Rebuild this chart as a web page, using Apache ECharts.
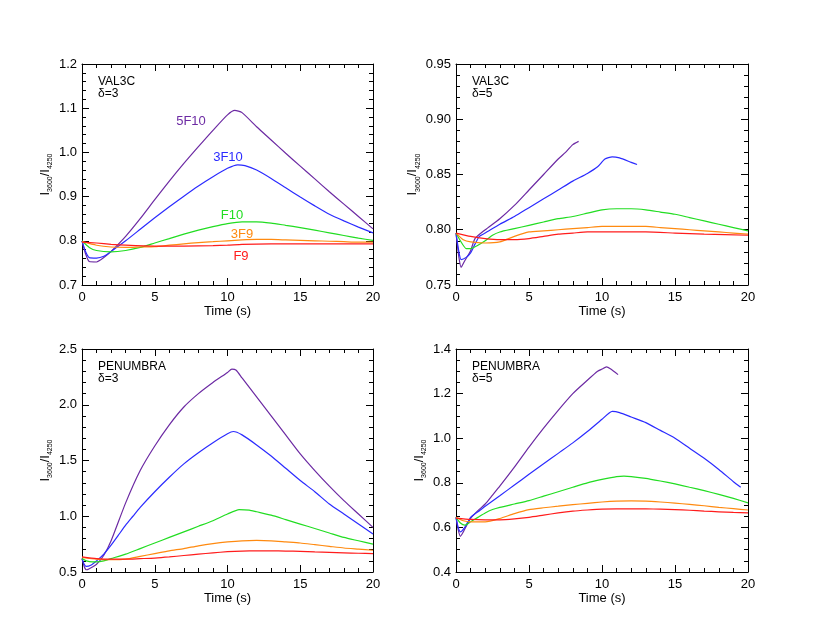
<!DOCTYPE html>
<html>
<head>
<meta charset="utf-8">
<title>Balmer ratio</title>
<script src="https://cdn.jsdelivr.net/npm/echarts@6/dist/echarts.min.js"></script>
<style>
  html, body { margin: 0; padding: 0; background: #fff; }
  #chart { width: 830px; height: 636px; }
</style>
</head>
<body>
<div id="chart"></div>
<script>
// x ticks (time, s)
var timeTicks = [0, 5, 10, 15, 20]

// VAL3C, delta=3  ([time, ratio])
var val3_5F10 = [[0, 0.80], [0.25, 0.77], [0.5, 0.753], [1, 0.752], [1.5, 0.762], [2, 0.776], [3, 0.81], [4, 0.85], [5, 0.893], [6, 0.935], [7, 0.975], [8, 1.013], [9, 1.05], [10, 1.085], [10.5, 1.095], [11, 1.09], [12, 1.058], [13, 1.028], [14, 0.998], [15, 0.969], [16, 0.94], [17, 0.911], [18, 0.883], [19, 0.855], [20, 0.827]]
var val3_3F10 = [[0, 0.80], [0.25, 0.775], [0.5, 0.762], [1, 0.761], [1.5, 0.765], [2, 0.776], [3, 0.80], [4, 0.826], [5, 0.852], [6, 0.877], [7, 0.901], [8, 0.924], [9, 0.945], [10, 0.964], [10.7, 0.972], [11.2, 0.97], [12, 0.96], [13, 0.941], [14, 0.92], [15, 0.899], [16, 0.879], [17, 0.86], [18, 0.845], [19, 0.831], [20, 0.818]]
var val3_F10 = [[0, 0.80], [0.5, 0.785], [1, 0.778], [2, 0.775], [3, 0.778], [4, 0.785], [5, 0.795], [6, 0.805], [7, 0.815], [8, 0.824], [9, 0.832], [10, 0.839], [11, 0.843], [12, 0.843], [13, 0.84], [14, 0.835], [15, 0.83], [16, 0.824], [17, 0.818], [18, 0.812], [19, 0.806], [20, 0.801]]
var val3_3F9 = [[0, 0.798], [1, 0.79], [2, 0.786], [3, 0.785], [4, 0.786], [5, 0.787], [6, 0.79], [7, 0.793], [8, 0.796], [9, 0.798], [10, 0.8], [11, 0.802], [12, 0.803], [13, 0.803], [14, 0.802], [15, 0.801], [16, 0.8], [17, 0.799], [18, 0.798], [19, 0.797], [20, 0.797]]
var val3_F9 = [[0, 0.797], [1, 0.795], [2, 0.792], [3, 0.79], [5, 0.788], [7, 0.788], [9, 0.789], [10, 0.79], [11, 0.792], [13, 0.793], [15, 0.793], [17, 0.793], [20, 0.793]]

// VAL3C, delta=5
var val5_5F10 = [[0, 0.797], [0.2, 0.775], [0.35, 0.766], [0.6, 0.772], [1, 0.781], [1.3, 0.792], [2, 0.80], [3, 0.81], [4, 0.822], [5, 0.836], [6, 0.85], [7, 0.864], [7.5, 0.87], [8, 0.877], [8.4, 0.88]]
var val5_3F10 = [[0, 0.797], [0.2, 0.78], [0.35, 0.773], [0.7, 0.775], [1, 0.779], [1.3, 0.787], [1.6, 0.794], [2, 0.797], [3, 0.805], [4, 0.812], [5, 0.82], [6, 0.828], [7, 0.836], [8, 0.844], [9, 0.851], [9.7, 0.857], [10.2, 0.864], [10.7, 0.866], [11.2, 0.865], [12, 0.861], [12.4, 0.859]]
var val5_F10 = [[0, 0.797], [0.3, 0.79], [0.7, 0.783], [1, 0.783], [1.5, 0.786], [2, 0.79], [2.5, 0.795], [3, 0.798], [4, 0.801], [5, 0.804], [6, 0.807], [7, 0.81], [8, 0.812], [9, 0.815], [10, 0.818], [11, 0.819], [12, 0.819], [13, 0.818], [14, 0.816], [15, 0.814], [16, 0.811], [17, 0.808], [18, 0.805], [19, 0.802], [20, 0.799]]
var val5_3F9 = [[0, 0.797], [0.5, 0.791], [1, 0.789], [2, 0.788], [3, 0.789], [4, 0.794], [5, 0.798], [6, 0.799], [7, 0.8], [8, 0.801], [9, 0.802], [10, 0.803], [11, 0.803], [12, 0.803], [13, 0.803], [14, 0.802], [15, 0.801], [16, 0.8], [17, 0.799], [18, 0.798], [19, 0.797], [20, 0.796]]
var val5_F9 = [[0, 0.797], [1, 0.794], [2, 0.792], [3, 0.791], [4, 0.791], [5, 0.792], [6, 0.794], [7, 0.796], [8, 0.797], [9, 0.798], [10, 0.798], [12, 0.798], [13, 0.798], [15, 0.797], [17, 0.796], [20, 0.795]]

// PENUMBRA, delta=3
var pen3_5F10 = [[0, 0.62], [0.15, 0.55], [0.3, 0.52], [0.5, 0.53], [1, 0.57], [1.5, 0.65], [2, 0.78], [3, 1.12], [4, 1.41], [5, 1.63], [6, 1.82], [7, 1.98], [8, 2.1], [9, 2.2], [10, 2.29], [10.3, 2.32], [10.6, 2.31], [11, 2.24], [12, 2.07], [13, 1.9], [14, 1.73], [15, 1.56], [16, 1.41], [17, 1.27], [18, 1.14], [19, 1.02], [20, 0.9]]
var pen3_3F10 = [[0, 0.62], [0.15, 0.57], [0.3, 0.55], [0.6, 0.56], [1, 0.6], [1.5, 0.66], [2, 0.74], [2.5, 0.83], [3, 0.92], [3.5, 1.0], [4, 1.08], [5, 1.22], [6, 1.35], [7, 1.47], [8, 1.57], [9, 1.66], [10, 1.74], [10.4, 1.76], [11, 1.73], [12, 1.64], [13, 1.54], [14, 1.43], [15, 1.32], [16, 1.22], [17, 1.11], [18, 1.02], [19, 0.93], [20, 0.84]]
var pen3_F10 = [[0, 0.62], [0.3, 0.6], [0.7, 0.59], [1, 0.59], [1.5, 0.6], [2, 0.62], [3, 0.66], [4, 0.71], [5, 0.76], [6, 0.81], [7, 0.86], [8, 0.91], [9, 0.96], [10, 1.02], [10.8, 1.06], [11.5, 1.055], [12, 1.04], [13, 1.01], [14, 0.97], [15, 0.93], [16, 0.89], [17, 0.85], [18, 0.81], [19, 0.78], [20, 0.75]]
var pen3_3F9 = [[0, 0.63], [1, 0.615], [2, 0.61], [3, 0.615], [4, 0.64], [5, 0.665], [6, 0.69], [7, 0.71], [8, 0.735], [9, 0.755], [10, 0.77], [11, 0.78], [12, 0.783], [13, 0.78], [14, 0.77], [15, 0.76], [16, 0.745], [17, 0.73], [18, 0.715], [19, 0.705], [20, 0.695]]
var pen3_F9 = [[0, 0.635], [1, 0.62], [2, 0.615], [3, 0.615], [4, 0.62], [5, 0.625], [6, 0.635], [7, 0.648], [8, 0.66], [9, 0.672], [10, 0.682], [11, 0.688], [12, 0.69], [13, 0.69], [14, 0.688], [15, 0.685], [16, 0.68], [17, 0.676], [18, 0.672], [19, 0.668], [20, 0.665]]

// PENUMBRA, delta=5
var pen5_5F10 = [[0, 0.645], [0.15, 0.59], [0.3, 0.56], [0.5, 0.58], [1, 0.64], [1.5, 0.675], [2, 0.705], [2.5, 0.745], [3, 0.785], [4, 0.87], [5, 0.96], [6, 1.045], [7, 1.125], [8, 1.2], [9, 1.26], [9.7, 1.3], [10, 1.31], [10.3, 1.32], [10.6, 1.31], [11.1, 1.285]]
var pen5_3F10 = [[0, 0.645], [0.15, 0.6], [0.3, 0.58], [0.6, 0.6], [1, 0.645], [1.5, 0.67], [2, 0.695], [3, 0.742], [4, 0.79], [5, 0.838], [6, 0.885], [7, 0.932], [8, 0.979], [9, 1.03], [10, 1.085], [10.7, 1.12], [11.2, 1.115], [12, 1.095], [13, 1.07], [14, 1.035], [15, 1.0], [16, 0.955], [17, 0.91], [18, 0.86], [19, 0.805], [19.5, 0.78]]
var pen5_F10 = [[0, 0.645], [0.3, 0.62], [0.6, 0.61], [1, 0.625], [1.5, 0.645], [2, 0.665], [2.5, 0.68], [3, 0.69], [4, 0.705], [5, 0.72], [6, 0.74], [7, 0.76], [8, 0.78], [9, 0.8], [10, 0.815], [11, 0.828], [11.5, 0.83], [12, 0.828], [13, 0.82], [14, 0.808], [15, 0.795], [16, 0.78], [17, 0.765], [18, 0.748], [19, 0.73], [20, 0.71]]
var pen5_3F9 = [[0, 0.645], [0.5, 0.63], [1, 0.625], [2, 0.625], [3, 0.64], [4, 0.662], [5, 0.68], [6, 0.688], [7, 0.695], [8, 0.702], [9, 0.708], [10, 0.714], [11, 0.718], [12, 0.719], [13, 0.718], [14, 0.714], [15, 0.709], [16, 0.703], [17, 0.697], [18, 0.69], [19, 0.684], [20, 0.678]]
var pen5_F9 = [[0, 0.642], [1, 0.636], [2, 0.634], [3, 0.634], [4, 0.638], [5, 0.645], [6, 0.655], [7, 0.665], [8, 0.673], [9, 0.678], [10, 0.682], [11, 0.683], [12, 0.683], [13, 0.683], [14, 0.682], [15, 0.68], [16, 0.677], [17, 0.673], [18, 0.67], [19, 0.667], [20, 0.665]]

var FONT = '"Liberation Sans", Helvetica, Arial, sans-serif'
var colors = { '5F10': '#6c2aa3', '3F10': '#2b2bff', 'F10': '#22dd22', '3F9': '#ff8a10', 'F9': '#ff1c1c' }

var panels = [
  { left: 82, top: 64, width: 291, height: 221, min: 0.7, max: 1.2, interval: 0.1, minor: 5, dec: 1,
    model: 'VAL3C', delta: 'δ=3',
    series: { '5F10': val3_5F10, '3F10': val3_3F10, 'F10': val3_F10, '3F9': val3_3F9, 'F9': val3_F9 } },
  { left: 456, top: 64, width: 292, height: 221, min: 0.75, max: 0.95, interval: 0.05, minor: 5, dec: 2,
    model: 'VAL3C', delta: 'δ=5',
    series: { '5F10': val5_5F10, '3F10': val5_3F10, 'F10': val5_F10, '3F9': val5_3F9, 'F9': val5_F9 } },
  { left: 82, top: 349, width: 291, height: 223, min: 0.5, max: 2.5, interval: 0.5, minor: 5, dec: 1,
    model: 'PENUMBRA', delta: 'δ=3',
    series: { '5F10': pen3_5F10, '3F10': pen3_3F10, 'F10': pen3_F10, '3F9': pen3_3F9, 'F9': pen3_F9 } },
  { left: 456, top: 349, width: 292, height: 223, min: 0.4, max: 1.4, interval: 0.2, minor: 4, dec: 1,
    model: 'PENUMBRA', delta: 'δ=5',
    series: { '5F10': pen5_5F10, '3F10': pen5_3F10, 'F10': pen5_F10, '3F9': pen5_3F9, 'F9': pen5_F9 } }
]

var axisLine = { show: true, onZero: false, lineStyle: { color: '#000', width: 1 } }
var tick = { show: true, inside: true, length: 7, lineStyle: { color: '#000' } }

var grid = [], xAxis = [], yAxis = [], series = [], graphic = []

panels.forEach(function (p, i) {
  grid.push({ left: p.left, top: p.top, width: p.width, height: p.height })
  var xBase = {
    type: 'value', gridIndex: i, min: timeTicks[0], max: timeTicks[timeTicks.length - 1], interval: 5,
    axisLine: axisLine, axisTick: tick, splitLine: { show: false },
    minorTick: { show: true, splitNumber: 5, length: 4, lineStyle: { color: '#000' } }
  }
  xAxis.push(Object.assign({}, xBase, {
    position: 'bottom',
    axisLabel: { color: '#000', fontSize: 13, fontFamily: FONT, margin: 6 },
    name: 'Time (s)', nameLocation: 'middle', nameGap: 19,
    nameTextStyle: { color: '#000', fontSize: 13, fontFamily: FONT }
  }))
  xAxis.push(Object.assign({}, xBase, { position: 'top', axisLabel: { show: false } }))

  var yBase = {
    type: 'value', gridIndex: i, min: p.min, max: p.max, interval: p.interval,
    axisLine: axisLine, axisTick: tick, splitLine: { show: false },
    minorTick: { show: true, splitNumber: p.minor, length: 4, lineStyle: { color: '#000' } }
  }
  var dec = p.dec
  yAxis.push(Object.assign({}, yBase, {
    position: 'left',
    axisLabel: { color: '#000', fontSize: 13, fontFamily: FONT, margin: 5,
      formatter: function (v) { return v.toFixed(dec) } },
    name: '{a|I}{b|3600}{a|/I}{b|4250}', nameLocation: 'middle', nameGap: 28,
    nameTextStyle: {
      rich: {
        a: { fontSize: 13, fontFamily: FONT, color: '#000', lineHeight: 18 },
        b: { fontSize: 7, fontFamily: FONT, color: '#000', lineHeight: 10, verticalAlign: 'bottom' }
      }
    }
  }))
  yAxis.push(Object.assign({}, yBase, { position: 'right', axisLabel: { show: false } }))

  Object.keys(p.series).forEach(function (k) {
    series.push({
      name: k + ' ' + i, type: 'line', xAxisIndex: 2 * i, yAxisIndex: 2 * i,
      data: p.series[k], showSymbol: false, smooth: 0.2,
      lineStyle: { color: colors[k], width: 1.2 }, itemStyle: { color: colors[k] },
      animation: false, z: 3
    })
  })

  graphic.push({ type: 'text', left: p.left + 16, top: p.top + 12,
    style: { text: p.model, fill: '#000', fontSize: 12, fontFamily: FONT } })
  graphic.push({ type: 'text', left: p.left + 16, top: p.top + 24,
    style: { text: p.delta, fill: '#000', fontSize: 12, fontFamily: FONT } })
})

// curve labels in the first panel
var curveLabels = [['5F10', 191, 121], ['3F10', 228, 157], ['F10', 232, 215], ['3F9', 242, 234], ['F9', 241, 256]]
curveLabels.forEach(function (c) {
  graphic.push({ type: 'text', x: c[1], y: c[2],
    style: { text: c[0], fill: colors[c[0]], fontSize: 13, fontFamily: FONT, align: 'center', verticalAlign: 'middle' } })
})

var chart = echarts.init(document.getElementById('chart'))
chart.setOption({
  backgroundColor: '#fff',
  animation: false,
  grid: grid,
  xAxis: xAxis,
  yAxis: yAxis,
  series: series,
  graphic: graphic
})
</script>
</body>
</html>
